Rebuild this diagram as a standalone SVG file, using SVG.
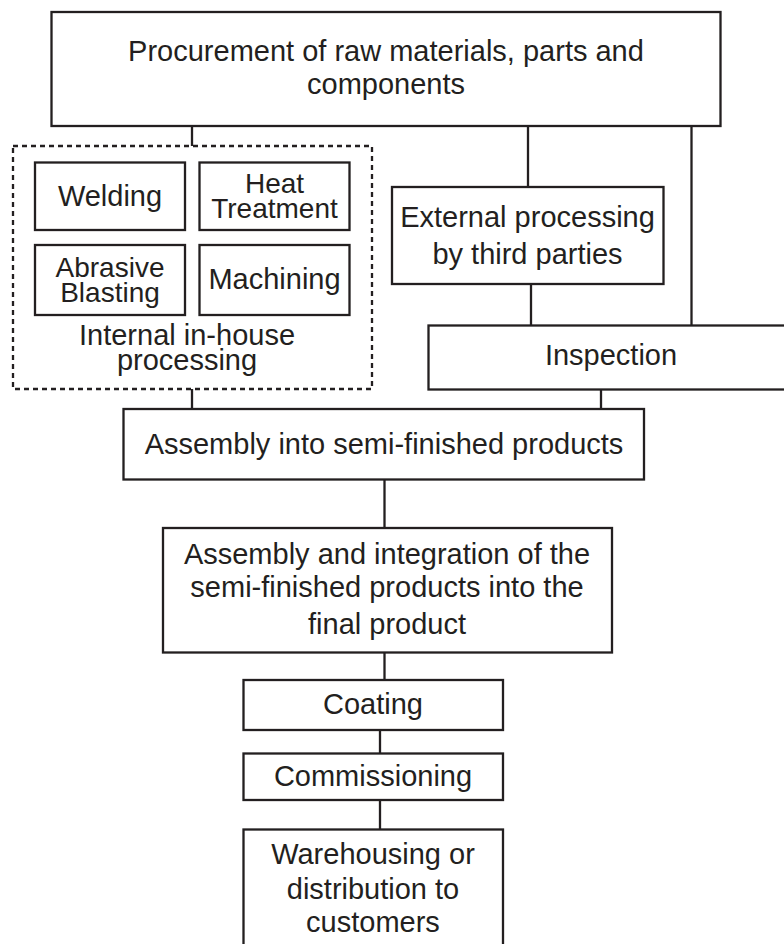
<svg xmlns="http://www.w3.org/2000/svg" width="784" height="944" viewBox="0 0 784 944">
<style>
.box{fill:#fff;stroke:#231f20;stroke-width:2.3}
.dash{fill:none;stroke:#231f20;stroke-width:2.3;stroke-dasharray:5 4}
.con line{stroke:#231f20;stroke-width:2.3}
text{font-family:"Liberation Sans",Arial,sans-serif;font-size:29px;fill:#231f20;text-anchor:middle}
.s{font-size:28px}
</style>
<rect width="784" height="944" fill="#fff"/>
<g id="connectors" class="con">
<line x1="192" y1="126" x2="192" y2="146"/>
<line x1="528" y1="126" x2="528" y2="187"/>
<line x1="691.5" y1="126" x2="691.5" y2="325"/>
<line x1="531" y1="284" x2="531" y2="325"/>
<line x1="192" y1="389" x2="192" y2="409"/>
<line x1="601" y1="389" x2="601" y2="409"/>
<line x1="384.5" y1="479" x2="384.5" y2="528"/>
<line x1="384.5" y1="652" x2="384.5" y2="680"/>
<line x1="380" y1="730" x2="380" y2="753"/>
<line x1="380" y1="800" x2="380" y2="829"/>
</g>
<g id="procurement">
<rect class="box" x="51.5" y="12" width="669" height="114"/>
<text x="386" y="61">Procurement of raw materials, parts and</text>
<text x="386" y="93.5">components</text>
</g>
<g id="internal">
<rect class="dash" x="13" y="146" width="359" height="243"/>
<text x="187" y="345">Internal in-house</text>
<text x="187" y="370">processing</text>
</g>
<g id="welding">
<rect class="box" x="35" y="162.5" width="150" height="67.5"/>
<text x="110" y="206">Welding</text>
</g>
<g id="heat">
<rect class="box" x="199.5" y="162.5" width="150" height="67.5"/>
<text class="s" x="274.5" y="192.5">Heat</text>
<text class="s" x="274.5" y="218">Treatment</text>
</g>
<g id="abrasive">
<rect class="box" x="35" y="245" width="150" height="70"/>
<text class="s" x="110" y="276.5">Abrasive</text>
<text class="s" x="110" y="301.5">Blasting</text>
</g>
<g id="machining">
<rect class="box" x="199.5" y="245" width="150" height="70"/>
<text x="274.5" y="288.5">Machining</text>
</g>
<g id="external">
<rect class="box" x="392" y="187" width="271.5" height="97"/>
<text x="527.5" y="227">External processing</text>
<text x="527.5" y="263.5">by third parties</text>
</g>
<g id="inspection">
<rect class="box" x="428.5" y="325.5" width="367" height="64"/>
<text x="611" y="365">Inspection</text>
</g>
<g id="assembly">
<rect class="box" x="123.5" y="409" width="520.5" height="70.5"/>
<text x="384" y="453.5">Assembly into semi-finished products</text>
</g>
<g id="final">
<rect class="box" x="163" y="528" width="449" height="124.5"/>
<text x="387" y="563.5">Assembly and integration of the</text>
<text x="387" y="597">semi-finished products into the</text>
<text x="387" y="633.5">final product</text>
</g>
<g id="coating">
<rect class="box" x="243.5" y="680" width="259.5" height="50"/>
<text x="373" y="713.5">Coating</text>
</g>
<g id="commissioning">
<rect class="box" x="243.5" y="753.5" width="259.5" height="46.5"/>
<text x="373" y="786">Commissioning</text>
</g>
<g id="warehousing">
<rect class="box" x="243.5" y="829.5" width="259.5" height="130"/>
<text x="373" y="863.5">Warehousing or</text>
<text x="373" y="898.5">distribution to</text>
<text x="373" y="932">customers</text>
</g>
</svg>
